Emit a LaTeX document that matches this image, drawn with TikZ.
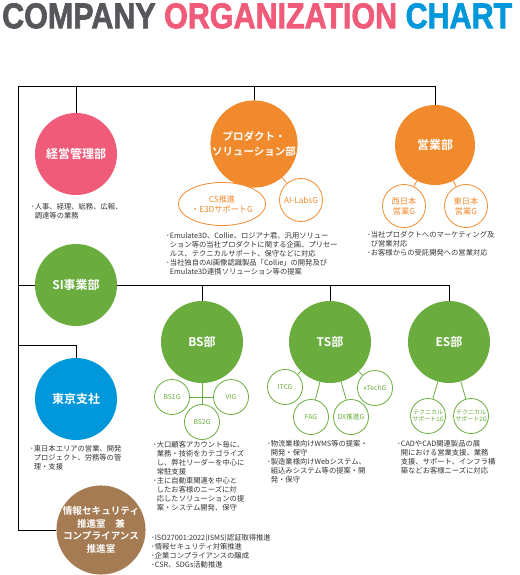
\documentclass[tikz,border=0pt]{standalone}
\usepackage{fontspec}
\usepackage{xcolor}
\usepackage{graphicx}
\usepackage{tikz}
\usetikzlibrary{shapes.geometric}
\setmainfont{Noto Sans CJK JP}[BoldFont={Noto Sans CJK JP Bold}]
\newfontfamily\titlefont{Liberation Sans}[BoldFeatures={FakeBold=2}]
\definecolor{ttlgray}{HTML}{57565B}
\definecolor{cpink}{HTML}{EF5B78}
\definecolor{cblue}{HTML}{0098DA}
\definecolor{corange}{HTML}{F18A2C}
\definecolor{cgreen}{HTML}{6AAD3E}
\definecolor{cbrown}{HTML}{A57B53}
\definecolor{notegray}{HTML}{333333}
\newcommand\bul{･}
\newcommand\ind{\hphantom{･}}
\tikzset{
  dept/.style={circle, inner sep=0, minimum size=82pt, text=white, align=center,
    font=\bfseries\fontsize{12}{15}\selectfont},
  grp/.style={circle, draw, line width=0.8pt, fill=white, inner sep=0,
    minimum size=35pt, align=center, font=\fontsize{6.8}{8}\selectfont},
  ogrp/.style={grp, draw=corange, text=corange, minimum size=43pt,
    font=\fontsize{8.2}{10}\selectfont},
  ggrp/.style={grp, draw=cgreen, text=cgreen},
  note/.style={anchor=north west, inner sep=0, align=left, text=notegray,
    font=\fontsize{7.3}{9}\selectfont},
  bus/.style={line width=0.9pt, black},
}

\begin{document}
\begin{tikzpicture}[x=1pt, y=-1pt]
  \useasboundingbox (0,0) rectangle (519,575);
  % title
  \node[anchor=north west, inner sep=0] (title) at (2,3)
    {\resizebox{510pt}{25pt}{\titlefont\bfseries\color{ttlgray}COMPANY
     \color{cpink}ORGANIZATION \color{cblue}CHART}};

  % departments
  \node[dept, fill=cpink] (mgmt) at (76,154) {経営管理部};
  \node[dept, fill=corange, minimum size=80pt, font=\bfseries\fontsize{10.5}{15}\selectfont]
    (prod) at (254,144) {プロダクト・\\ソリューション部};
  \node[dept, fill=corange, minimum size=80pt] (sales) at (435,145) {営業部};
  \node[dept, fill=cgreen] (si) at (76,285) {SI事業部};
  \node[dept, fill=cgreen] (bs) at (202,342) {BS部};
  \node[dept, fill=cgreen] (ts) at (330,342) {TS部};
  \node[dept, fill=cgreen] (es) at (449,342) {ES部};
  \node[dept, fill=cblue] (tokyo) at (76,399) {東京支社};
  \node[dept, fill=cbrown, minimum size=84pt, font=\bfseries\fontsize{9.6}{12.5}\selectfont]
    (sec) at (101,530) {情報セキュリティ\\推進室　兼\\コンプライアンス\\推進室};

  % groups
  \node[ogrp, ellipse, minimum width=72pt, minimum height=43pt] (cs) at (222,204)
    {CS推進\\・E3DサポートG};
  \node[ogrp] (ailabs) at (301,200) {AI-LabsG};
  \node[ogrp] (west) at (404,206) {西日本\\営業G};
  \node[ogrp] (east) at (466,206) {東日本\\営業G};
  \node[ggrp] (bs1) at (172,397) {BS1G};
  \node[ggrp] (vig) at (231,397) {VIG};
  \node[ggrp] (bs2) at (202,422) {BS2G};
  \node[ggrp] (itcg) at (285,387) {ITCG};
  \node[ggrp] (fag) at (311,417) {FAG};
  \node[ggrp] (dx) at (351,417) {DX推進G};
  \node[ggrp] (xtech) at (375,388) {xTechG};
  \node[ggrp, font=\fontsize{6}{7}\selectfont] (tech1) at (428,416) {テクニカル\\サポート1G};
  \node[ggrp, font=\fontsize{6}{7}\selectfont] (tech2) at (471,416) {テクニカル\\サポート2G};

  % bus lines
  \coordinate (topl) at (18,86);
  \coordinate (topr) at (435,86);
  \coordinate (tkbus) at (18,345);
  \draw[bus] (topl) -- (topr);
  \draw[bus] (mgmt.north) -- (mgmt.north |- topl);
  \draw[bus] (prod.north) -- (prod.north |- topl);
  \draw[bus] (sales.north) -- (sales.north |- topr);
  \draw[bus] (topl) |- (sec.west);
  \draw[bus] (si.west -| topl) -- (si.west);
  \draw[bus] (si.east) -| (es.north);
  \draw[bus] (bs.north) -- (bs.north |- si.east);
  \draw[bus] (ts.north) -- (ts.north |- si.east);
  \draw[bus] (tkbus) -| (tokyo.north);

  % group links
  \draw[corange, line width=0.8pt] (prod) -- (cs);
  \draw[corange, line width=0.8pt] (prod) -- (ailabs);
  \draw[corange, line width=0.8pt] (sales) -- (west);
  \draw[corange, line width=0.8pt] (sales) -- (east);
  \draw[cgreen, line width=0.8pt] (bs.south) -- (bs2.north);
  \draw[cgreen, line width=0.8pt] (bs1.east) -- (vig.west);
  \foreach \g in {itcg, fag, dx, xtech}
    \draw[cgreen, line width=0.8pt] (ts) -- (\g);
  \foreach \g in {tech1, tech2}
    \draw[cgreen, line width=0.8pt] (es) -- (\g);

  % notes
  \node[note] (mgmtnote) at (31,203)
    {\bul 人事、経理、総務、広報、\\\ind 調達等の業務};
  \node[note] (prodnote) at (166,232)
    {\bul Emulate3D、Collie、ロジアナ君、汎用ソリュー\\
     \ind ション等の当社プロダクトに関する企画、プリセー\\
     \ind ルス、テクニカルサポート、保守などに対応\\
     \bul 当社独自のAI画像認識製品「Collie」の開発及び\\
     \ind Emulate3D連携ソリューション等の提案};
  \node[note] (salesnote) at (367,231)
    {\bul 当社プロダクトへのマーケティング及\\
     \ind び営業対応\\
     \bul お客様からの受託開発への営業対応};
  \node[note] (tokyonote) at (30,445)
    {\bul 東日本エリアの営業、開発\\
     \ind プロジェクト、労務等の管\\
     \ind 理・支援};
  \node[note] (bsnote) at (153,441)
    {\bul 大口顧客アカウント毎に、\\
     \ind 業務・技術をカテゴライズ\\
     \ind し、弊社リーダーを中心に\\
     \ind 常駐支援\\
     \bul 主に自動車関連を中心と\\
     \ind したお客様のニーズに対\\
     \ind 応したソリューションの提\\
     \ind 案・システム開発、保守};
  \node[note] (tsnote) at (267,440)
    {\bul 物流業様向けWMS等の提案・\\
     \ind 開発・保守\\
     \bul 製造業様向けWebシステム、\\
     \ind 組込みシステム等の提案・開\\
     \ind 発・保守};
  \node[note] (esnote) at (397,440)
    {\bul CADやCAD関連製品の展\\
     \ind 開における営業支援、業務\\
     \ind 支援、サポート、インフラ構\\
     \ind 築などお客様ニーズに対応};
  \node[note] (secnote) at (151,534)
    {\bul ISO27001:2022(ISMS)認証取得推進\\
     \bul 情報セキュリティ対策推進\\
     \bul 企業コンプライアンスの醸成\\
     \bul CSR、SDGs活動推進};
\end{tikzpicture}
\end{document}
